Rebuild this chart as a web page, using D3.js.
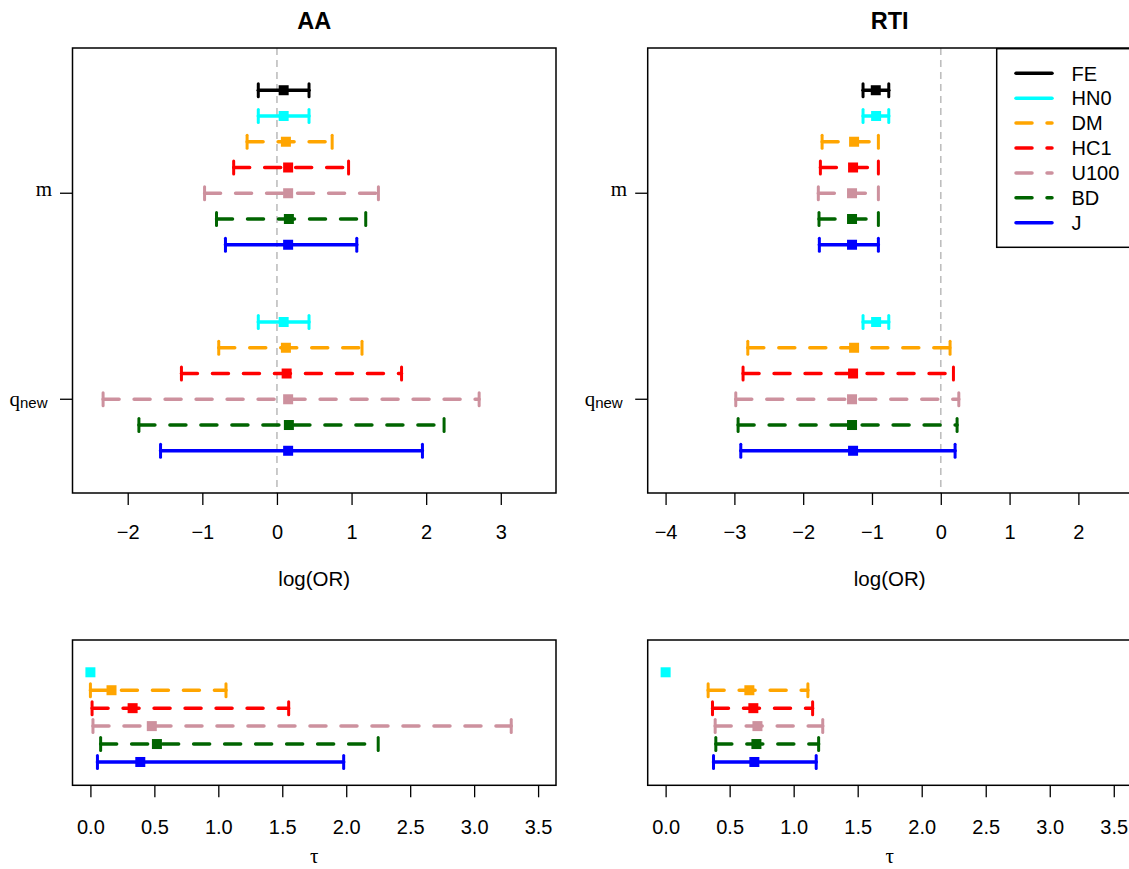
<!DOCTYPE html>
<html>
<head>
<meta charset="utf-8">
<script src="https://cdn.jsdelivr.net/npm/d3@7"></script>
<style>
  html, body { margin: 0; padding: 0; background: #fff; }
  svg { display: block; }
</style>
</head>
<body>
<svg id="chart" width="1129" height="869"></svg>
<script>
// ---------------- data ----------------
const methods = ["FE", "HN0", "DM", "HC1", "U100", "BD", "J"];
const methodColors = ["#000000", "#00ffff", "#ffa500", "#ff0000", "#cd919e", "#006400", "#0000ff"];
const methodDashed = [false, false, true, true, true, true, false];

const panelTitles = ["AA", "RTI"];
const groupLabels = ["m", "q_new"];

// AA: log(OR) estimates and intervals
const aaMuEst = [0.09, 0.09, 0.12, 0.15, 0.15, 0.16, 0.15];
const aaMuLo  = [-0.25, -0.25, -0.40, -0.58, -0.97, -0.81, -0.69];
const aaMuHi  = [0.43, 0.43, 0.74, 0.96, 1.36, 1.19, 1.07];
const aaQEst  = [null, 0.09, 0.12, 0.13, 0.15, 0.16, 0.15];
const aaQLo   = [null, -0.25, -0.78, -1.28, -2.33, -1.85, -1.56];
const aaQHi   = [null, 0.43, 1.14, 1.67, 2.71, 2.24, 1.95];
const aaTauEst = [null, 0, 0.165, 0.33, 0.48, 0.52, 0.39];
const aaTauLo  = [null, 0, 0.0, 0.013, 0.02, 0.08, 0.055];
const aaTauHi  = [null, 0, 1.06, 1.55, 3.29, 2.25, 1.98];

// RTI
const rtiMuEst = [-0.945, -0.94, -1.26, -1.275, -1.29, -1.29, -1.29];
const rtiMuLo  = [-1.13, -1.13, -1.725, -1.75, -1.78, -1.77, -1.765];
const rtiMuHi  = [-0.756, -0.756, -0.907, -0.907, -0.907, -0.907, -0.907];
const rtiQEst  = [null, -0.94, -1.26, -1.275, -1.29, -1.29, -1.275];
const rtiQLo   = [null, -1.13, -2.805, -2.874, -2.98, -2.946, -2.907];
const rtiQHi   = [null, -0.756, 0.135, 0.184, 0.262, 0.237, 0.208];
const rtiTauEst = [null, 0, 0.654, 0.685, 0.717, 0.709, 0.693];
const rtiTauLo  = [null, 0, 0.332, 0.366, 0.387, 0.392, 0.374];
const rtiTauHi  = [null, 0, 1.111, 1.148, 1.227, 1.195, 1.176];

const aaTicks = [-2, -1, 0, 1, 2, 3];
const rtiTicks = [-4, -3, -2, -1, 0, 1, 2];
const tauTicks = [0, 0.5, 1, 1.5, 2, 2.5, 3, 3.5];

// ---------------- drawing ----------------
const svg = d3.select("#chart");
const SANS = "'Liberation Sans', Arial, Helvetica, sans-serif";
const SERIF = "'Liberation Serif', 'Times New Roman', serif";
const LW = 3.5;
const DASH = "16,15";
const FS = 20;

function drawBar(g, x, y, est, lo, hi, i) {
  const c = methodColors[i];
  const yy = y;
  if (hi > lo) {
    g.append("line")
      .attr("x1", x(lo)).attr("x2", x(hi))
      .attr("y1", yy).attr("y2", yy)
      .attr("stroke", c).attr("stroke-width", LW)
      .attr("stroke-linecap", "round")
      .attr("stroke-dasharray", methodDashed[i] ? DASH : null);
    [lo, hi].forEach(v => {
      g.append("line")
        .attr("x1", x(v)).attr("x2", x(v))
        .attr("y1", yy - 6.5).attr("y2", yy + 6.5)
        .attr("stroke", c).attr("stroke-width", 3)
        .attr("stroke-linecap", "round");
    });
  }
  g.append("rect")
    .attr("x", x(est) - 5).attr("y", yy - 5)
    .attr("width", 10).attr("height", 10)
    .attr("fill", c);
}

function box(g, x0, x1, y0, y1) {
  g.append("rect")
    .attr("x", x0).attr("y", y0)
    .attr("width", x1 - x0).attr("height", y1 - y0)
    .attr("fill", "none").attr("stroke", "#000").attr("stroke-width", 1.5);
}

function xAxis(g, x, ticks, yPos, fmt, pad) {
  const ax = d3.axisBottom(x).tickValues(ticks).tickSize(12).tickPadding(pad).tickFormat(fmt);
  const a = g.append("g").attr("transform", `translate(0,${yPos})`).call(ax);
  a.select(".domain").remove();
  a.selectAll(".tick line").attr("stroke", "#000").attr("stroke-width", 1.3);
  a.selectAll(".tick text").attr("fill", "#000")
    .style("font-family", SANS).style("font-size", FS + "px");
}

function topPanel(x0, x1, domain, ticks, title, muEst, muLo, muHi, qEst, qLo, qHi, withLegend) {
  const y0 = 48, y1 = 493;
  const g = svg.append("g");
  const x = d3.scaleLinear().domain(domain).range([x0, x1]);
  const y = d3.scaleLinear().domain([-3.64, 13.64]).range([y1, y0]);
  const mCenter = 8, qCenter = 0;

  // zero reference line
  g.append("line")
    .attr("x1", x(0)).attr("x2", x(0)).attr("y1", y0).attr("y2", y1)
    .attr("stroke", "#bebebe").attr("stroke-width", 1.6)
    .attr("stroke-dasharray", "7,5");

  methods.forEach((m, i) => {
    if (muEst[i] !== null) drawBar(g, x, y(mCenter + 4 - i), muEst[i], muLo[i], muHi[i], i);
    if (qEst[i] !== null) drawBar(g, x, y(qCenter + 4 - i), qEst[i], qLo[i], qHi[i], i);
  });

  box(g, x0, x1, y0, y1);
  xAxis(g, x, ticks, y1, d3.format(""), 20.1);

  // y ticks
  [mCenter, qCenter].forEach(v => {
    g.append("line").attr("x1", x0 - 12.5).attr("x2", x0)
      .attr("y1", y(v)).attr("y2", y(v))
      .attr("stroke", "#000").attr("stroke-width", 1.3);
  });
  g.append("text")
    .attr("x", x0 - 20.5).attr("y", y(mCenter) + 3)
    .attr("text-anchor", "end")
    .style("font-family", SERIF).style("font-size", "21px")
    .text(groupLabels[0]);
  const qt = g.append("text")
    .attr("x", x0 - 25).attr("y", y(qCenter) + 7)
    .attr("text-anchor", "end")
    .style("font-family", SERIF).style("font-size", "21px");
  qt.append("tspan").text("q");
  qt.append("tspan").attr("dy", 2).style("font-family", SANS).style("font-size", "15px").text("new");

  // title
  svg.append("text")
    .attr("x", (x0 + Math.min(x1, 1131.7)) / 2).attr("y", 29)
    .attr("text-anchor", "middle")
    .style("font-family", SANS).style("font-size", "23.5px").style("font-weight", "bold")
    .text(title);
  // x label
  svg.append("text")
    .attr("x", (x0 + x1) / 2).attr("y", 586)
    .attr("text-anchor", "middle")
    .style("font-family", SANS).style("font-size", "20.5px")
    .text("log(OR)");

  if (withLegend) {
    const lg = svg.append("g");
    const lx = 996.7, ly = 48.7;
    lg.append("rect").attr("x", lx).attr("y", ly).attr("width", 200).attr("height", 198.6)
      .attr("fill", "#fff").attr("stroke", "#000").attr("stroke-width", 1.5);
    methods.forEach((m, i) => {
      const yy = 73.3 + i * 24.9;
      lg.append("line").attr("x1", 1016).attr("x2", 1052)
        .attr("y1", yy).attr("y2", yy)
        .attr("stroke", methodColors[i]).attr("stroke-width", LW)
        .attr("stroke-linecap", "round")
        .attr("stroke-dasharray", methodDashed[i] ? DASH : null);
      lg.append("text").attr("x", 1071.5).attr("y", yy + 7.2)
        .style("font-family", SANS).style("font-size", FS + "px")
        .text(m);
    });
  }
}

function bottomPanel(x0, x1, tauEst, tauLo, tauHi) {
  const y0 = 640, y1 = 785.3;
  const g = svg.append("g");
  const x = d3.scaleLinear().domain([-0.14, 3.64]).range([x0, x1]);
  const y = d3.scaleLinear().domain([-0.3, 7.8]).range([y1, y0]);
  methods.forEach((m, i) => {
    if (tauEst[i] !== null) drawBar(g, x, y(7 - i), tauEst[i], tauLo[i], tauHi[i], i);
  });
  box(g, x0, x1, y0, y1);
  xAxis(g, x, tauTicks, y1, d3.format(".1f"), 22.8);
  svg.append("text")
    .attr("x", (x0 + x1) / 2).attr("y", 863)
    .attr("text-anchor", "middle")
    .style("font-family", SERIF).style("font-size", "21px")
    .text("τ");
}

topPanel(72.5, 556, [-2.74, 3.74], aaTicks, panelTitles[0], aaMuEst, aaMuLo, aaMuHi, aaQEst, aaQLo, aaQHi, false);
topPanel(647.7, 1131.7, [-4.26, 2.775], rtiTicks, panelTitles[1], rtiMuEst, rtiMuLo, rtiMuHi, rtiQEst, rtiQLo, rtiQHi, true);
bottomPanel(72.5, 556, aaTauEst, aaTauLo, aaTauHi);
bottomPanel(647.7, 1131.7, rtiTauEst, rtiTauLo, rtiTauHi);
</script>
</body>
</html>
